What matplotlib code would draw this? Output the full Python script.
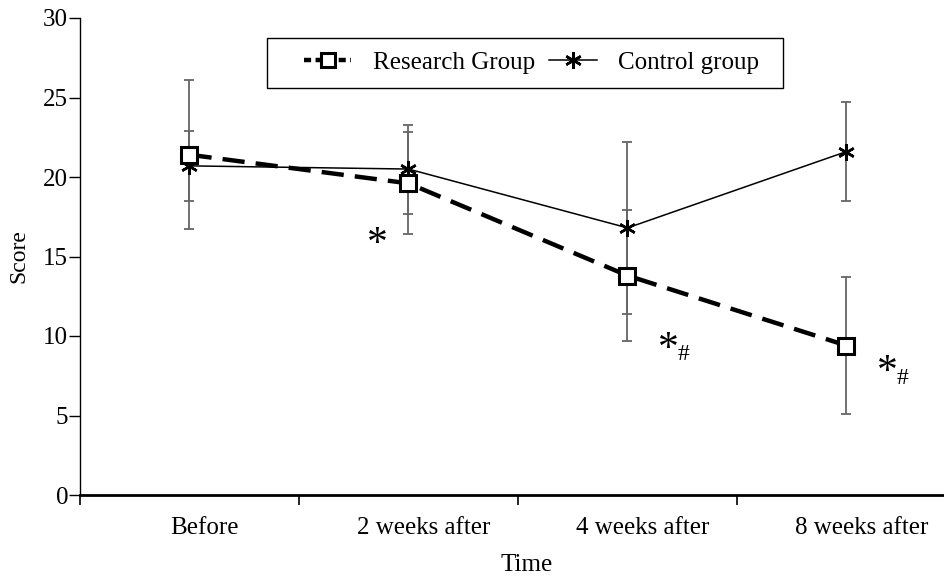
import matplotlib.pyplot as plt
from matplotlib.lines import Line2D
from matplotlib.patches import Rectangle

plt.rcParams['font.family'] = ['Liberation Serif', 'DejaVu Serif']

times = ['Before', '2 weeks after', '4 weeks after', '8 weeks after']
research = [21.4, 19.6, 13.8, 9.4]
research_err = [4.7, 3.2, 4.1, 4.3]
control = [20.7, 20.5, 16.8, 21.6]
control_err = [2.2, 2.8, 5.4, 3.1]

# significance marks (asterisk position, and whether a # follows it)
marks_x = [0.86, 2.187, 3.187]
marks_y = [16.15, 9.6, 8.1]
marks_hash = [False, True, True]

fig = plt.figure(figsize=(9.45, 5.76), dpi=100)
ax = fig.add_axes([80 / 945, 1 - 495 / 576, 876 / 945, 477 / 576])

x = list(range(len(times)))

# error bars
ax.errorbar(x, research, yerr=research_err, fmt='none', ecolor='#666666',
            elinewidth=1.3, capsize=3.5, capthick=1.3, zorder=1)
ax.errorbar(x, control, yerr=control_err, fmt='none', ecolor='#666666',
            elinewidth=1.3, capsize=3.5, capthick=1.3, zorder=1)

ax.plot(x, control, color='black', lw=1.1, marker=(6, 2, 0), ms=12,
        mew=1.8, zorder=3)
ax.plot(x, research, color='black', lw=3.2, dashes=(5, 2.5), marker='s',
        ms=11, mfc='white', mec='black', mew=2.2, zorder=4)

for mx, my, h in zip(marks_x, marks_y, marks_hash):
    ax.annotate('*', (mx, my), xytext=(0, -5), textcoords='offset points',
                fontsize=30, ha='center', va='center')
    if h:
        ax.annotate('#', (mx, my), xytext=(10.5, -8.5), textcoords='offset points',
                    fontsize=17, ha='center', va='center')

ax.set_xlim(-0.5, 3.5)
ax.set_ylim(0, 30)
ax.set_yticks([0, 5, 10, 15, 20, 25, 30])
# labels sit a little right of the group centres, as in the original
ax.set_xticks([i + 0.07 for i in x])
ax.set_xticklabels(times, fontsize=18)
ax.set_xticks([-0.5, 0.5, 1.5, 2.5], minor=True)
ax.tick_params(axis='x', which='major', length=0, pad=16)
ax.tick_params(axis='x', which='minor', length=7.5, width=1.2, direction='out')
ax.tick_params(axis='y', length=8, width=1, labelsize=18, pad=0.5)

for s in ['top', 'right']:
    ax.spines[s].set_visible(False)
ax.spines['left'].set_linewidth(1)
ax.spines['bottom'].set_linewidth(2)

ax.set_ylabel('Score', fontsize=17)
ax.yaxis.set_label_coords(-0.058, 0.5)
ax.set_xlabel('Time', fontsize=18)
ax.xaxis.label.set_va('baseline')
ax.xaxis.set_label_coords(0.510, -0.159)

handles = [
    Line2D([], [], color='black', lw=3.2, dashes=(1.6, 1.0), marker='s', ms=10,
           mfc='white', mec='black', mew=2.2),
    Line2D([], [], color='black', lw=1.1, marker=(6, 2, 0), ms=12, mew=1.8),
]
ax.add_patch(Rectangle((0.2135, 0.853), 0.589, 0.105, transform=ax.transAxes,
                       fill=False, edgecolor='black', lw=1, zorder=5))
leg = ax.legend(handles, ['Research Group', 'Control group'], ncol=2,
                loc='center left', bbox_to_anchor=(0.2557, 0.906), fontsize=18,
                frameon=False, handlelength=1.9, handletextpad=0.85,
                columnspacing=0.58, borderpad=0, borderaxespad=0)

fig.savefig('out.png', dpi=100)
